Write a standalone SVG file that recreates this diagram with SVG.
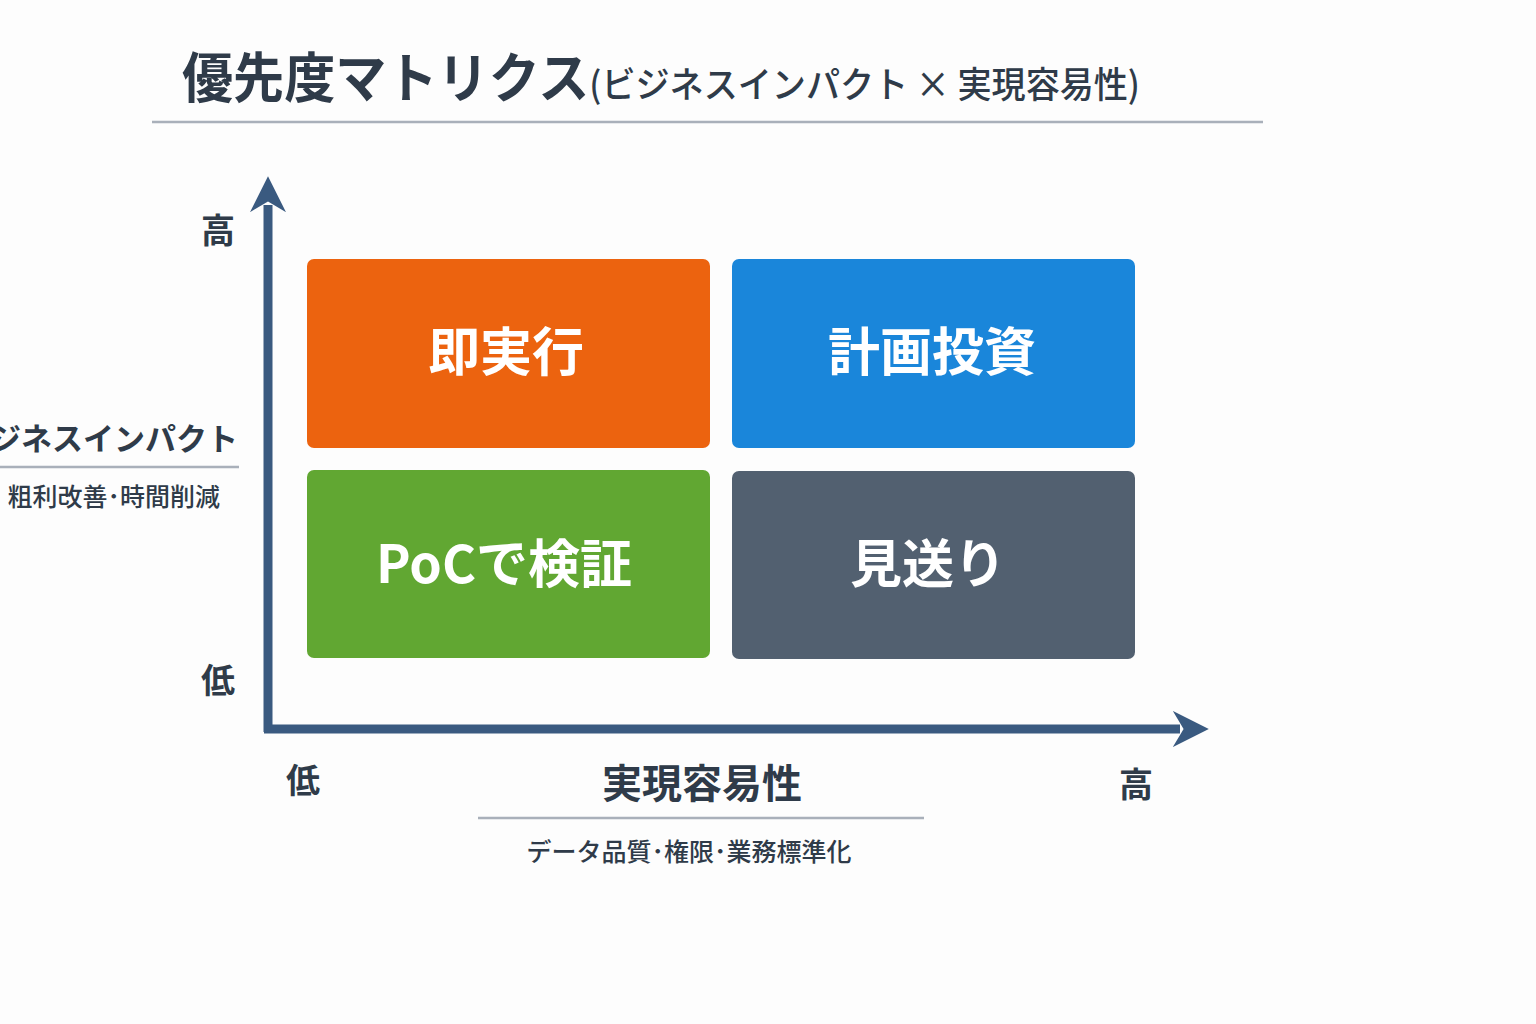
<svg xmlns="http://www.w3.org/2000/svg" width="1536" height="1024" viewBox="0 0 1536 1024">
<defs>
<style>
text{font-family:"Noto Sans CJK JP","Noto Sans",sans-serif;fill:#2f3b49;font-weight:700}
.q{fill:#fff;font-size:52px;text-anchor:middle}
.ax{font-size:34px}
.sub{font-size:25px;font-weight:500}
.rule{stroke:#a9b0ba;stroke-width:2.5}
</style>
<marker id="ah" viewBox="0 0 10 10" refX="2" refY="5" markerWidth="4" markerHeight="4" orient="auto" markerUnits="strokeWidth"><path d="M0,0 L10,5 L0,10 L3,5 Z" fill="#3a5a80"/></marker>
</defs>
<rect width="1536" height="1024" fill="#fdfdfd"/>
<g id="title">
<text x="182" y="98" font-size="54" textLength="958" lengthAdjust="spacingAndGlyphs">優先度マトリクス<tspan font-size="36" font-weight="500">(ビジネスインパクト × 実現容易性)</tspan></text>
<line class="rule" x1="152" y1="122" x2="1263" y2="122"/>
</g>
<g id="connectors">
<line x1="268" y1="732" x2="268" y2="205" stroke="#3a5a80" stroke-width="9" marker-end="url(#ah)"/>
<line x1="264" y1="729" x2="1180" y2="729" stroke="#3a5a80" stroke-width="9" marker-end="url(#ah)"/>
</g>
<g id="y-labels">
<text class="ax" x="218" y="243" text-anchor="middle">高</text>
<text class="ax" x="218" y="693" text-anchor="middle">低</text>
<text x="238" y="450" font-size="31" text-anchor="end" font-weight="600">ビジネスインパクト</text>
<line class="rule" x1="0" y1="467" x2="239" y2="467"/>
<text class="sub" x="220" y="506" text-anchor="end" font-size="26">粗利改善･時間削減</text>
</g>
<g id="x-labels">
<text class="ax" x="303" y="793" text-anchor="middle">低</text>
<text class="ax" x="1136" y="797" text-anchor="middle">高</text>
<text x="702" y="798" font-size="40" text-anchor="middle" font-weight="600">実現容易性</text>
<line class="rule" x1="478" y1="818" x2="924" y2="818"/>
<text class="sub" x="689" y="861" text-anchor="middle" font-size="27">データ品質･権限･業務標準化</text>
</g>
<g id="q1"><rect x="307" y="259" width="403" height="189" rx="7" fill="#ec630f"/><text class="q" x="506" y="371">即実行</text></g>
<g id="q2"><rect x="732" y="259" width="403" height="189" rx="7" fill="#1a86da"/><text class="q" x="932" y="371">計画投資</text></g>
<g id="q3"><rect x="307" y="470" width="403" height="188" rx="7" fill="#61a732"/><text class="q" x="504" y="583">PoCで検証</text></g>
<g id="q4"><rect x="732" y="471" width="403" height="188" rx="7" fill="#526070"/><text class="q" x="928" y="583">見送り</text></g>
</svg>
